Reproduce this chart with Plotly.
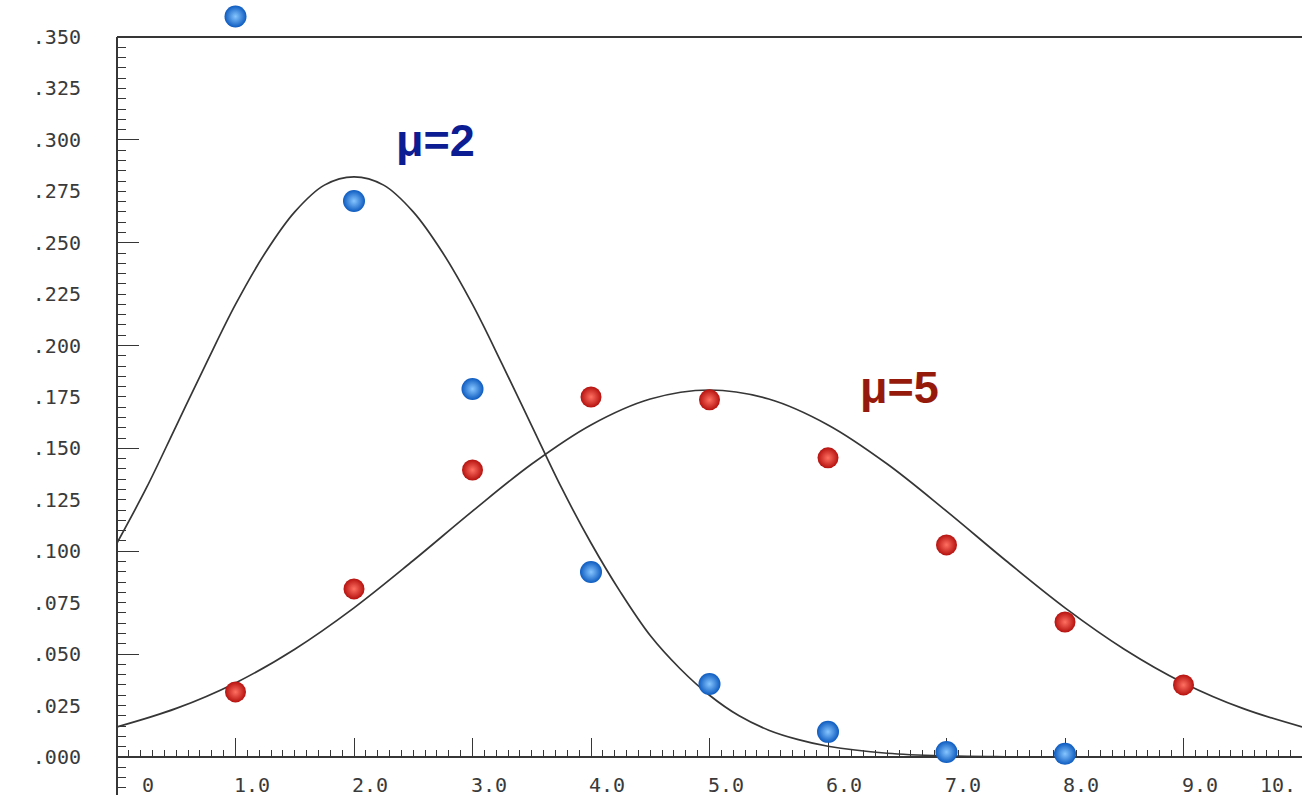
import plotly.graph_objects as go

# Poisson probabilities (points) for two means
k_blue = [1, 2, 3, 4, 5, 6, 7, 8]
p_blue = [0.360, 0.2703, 0.1789, 0.0899, 0.0355, 0.0122, 0.0024, 0.0015]

k_red = [1, 2, 3, 4, 5, 6, 7, 8, 9]
p_red = [0.0316, 0.0817, 0.1395, 0.1750, 0.1736, 0.1454, 0.1031, 0.0656, 0.0350]

# Smooth approximating curve for mu=2, sampled every 0.25
curve2_x = [0, 0.25, 0.5, 0.75, 1, 1.25, 1.5, 1.75, 2, 2.25, 2.5, 2.75, 3,
            3.25, 3.5, 3.75, 4, 4.25, 4.5, 4.75, 5, 5.25, 5.5, 5.75, 6,
            6.5, 7, 7.5, 8]
curve2_y = [0.104, 0.131, 0.161, 0.191, 0.220, 0.245, 0.265, 0.278, 0.282,
            0.278, 0.265, 0.245, 0.220, 0.191, 0.161, 0.131, 0.104, 0.080,
            0.059, 0.043, 0.030, 0.020, 0.013, 0.0084, 0.0052, 0.0018,
            0.0005, 0.0001, 0.0]

# Smooth approximating curve for mu=5, sampled every 0.5
curve5_x = [0, 0.5, 1, 1.5, 2, 2.5, 3, 3.5, 4, 4.5, 5, 5.5, 6, 6.5, 7, 7.5,
            8, 8.5, 9, 9.5, 10]
curve5_y = [0.0146, 0.0236, 0.036, 0.0524, 0.0725, 0.0955, 0.1195, 0.1424,
            0.1614, 0.174, 0.1784, 0.174, 0.1614, 0.1424, 0.1195, 0.0955,
            0.0725, 0.0524, 0.036, 0.0236, 0.0146]

# Axis tick labels
x_tick_vals = [0, 1, 2, 3, 4, 5, 6, 7, 8, 9, 10]
x_tick_text = ["0", "1.0", "2.0", "3.0", "4.0", "5.0", "6.0", "7.0", "8.0",
               "9.0", "10."]
y_tick_vals = [0.0, 0.025, 0.05, 0.075, 0.1, 0.125, 0.15, 0.175, 0.2, 0.225,
               0.25, 0.275, 0.3, 0.325, 0.35]
y_tick_text = [".000", ".025", ".050", ".075", ".100", ".125", ".150", ".175",
               ".200", ".225", ".250", ".275", ".300", ".325", ".350"]
y_long_ticks = [0.0, 0.05, 0.1, 0.15, 0.2, 0.25, 0.3]

Y_MIN, Y_TOP, Y_MAX = -0.0185, 0.35, 0.368
X_MIN, X_MAX = 0, 10

# small ticks every 0.005 from below zero up to the frame top
y_minor_ticks = [round(-0.015 + 0.005 * i, 3) for i in range(73)]

INK = "#363636"
TICK_FONT = dict(family="DejaVu Sans Mono", size=20, color="#3a3a3a")

fig = go.Figure()

fig.add_trace(go.Scatter(x=curve2_x, y=curve2_y, mode="lines",
                         line=dict(color=INK, width=1.7, shape="spline"),
                         hoverinfo="skip"))
fig.add_trace(go.Scatter(x=curve5_x, y=curve5_y, mode="lines",
                         line=dict(color=INK, width=1.7, shape="spline"),
                         hoverinfo="skip"))

fig.add_trace(go.Scatter(
    x=k_blue, y=p_blue, mode="markers", cliponaxis=False,
    marker=dict(size=22, color="#0d5bc0", line=dict(width=0),
                gradient=dict(type="radial", color="#86c6ff"))))
fig.add_trace(go.Scatter(
    x=k_red, y=p_red, mode="markers", cliponaxis=False,
    marker=dict(size=21, color="#b5110e", line=dict(width=0),
                gradient=dict(type="radial", color="#ff7062"))))

# frame: left axis line (stops at the top line) and top line
fig.add_shape(type="line", xref="paper", yref="y", x0=0, x1=0,
              y0=Y_MIN, y1=Y_TOP, line=dict(color=INK, width=2))
fig.add_shape(type="line", xref="paper", yref="y", x0=0, x1=1,
              y0=Y_TOP, y1=Y_TOP, line=dict(color=INK, width=2))

# x tick labels sit just right of their ticks
for v, t in zip(x_tick_vals, x_tick_text):
    if v == X_MAX:
        anchor, shift = "right", -4
    elif v == 0:
        anchor, shift = "left", 23
    else:
        anchor, shift = "left", -4
    fig.add_annotation(x=v, y=-0.0136, xref="x", yref="y", text=t,
                       showarrow=False, xanchor=anchor, yanchor="middle",
                       xshift=shift, font=TICK_FONT)

fig.add_annotation(x=2.69, y=0.2995, xref="x", yref="y", text="μ=2",
                   showarrow=False, xanchor="center", yanchor="middle",
                   font=dict(family="Liberation Sans", size=45,
                             color="#0c1c92", weight="bold"))
fig.add_annotation(x=6.60, y=0.1795, xref="x", yref="y", text="μ=5",
                   showarrow=False, xanchor="center", yanchor="middle",
                   font=dict(family="Liberation Sans", size=45,
                             color="#961a0c", weight="bold"))

fig.update_layout(
    width=1302, height=798,
    margin=dict(l=117, r=0, t=0, b=3),
    paper_bgcolor="white", plot_bgcolor="white",
    showlegend=False,
    xaxis=dict(
        range=[X_MIN, X_MAX], anchor="free",
        position=(0 - Y_MIN) / (Y_MAX - Y_MIN),
        showgrid=False, zeroline=False, showline=True,
        linecolor=INK, linewidth=2, layer="below traces",
        tickmode="array", tickvals=x_tick_vals, showticklabels=False,
        ticks="inside", ticklen=18, tickwidth=1.3, tickcolor=INK,
        minor=dict(tickmode="linear", tick0=0, dtick=0.1, ticks="inside",
                   ticklen=6, tickwidth=1.1, tickcolor=INK),
    ),
    yaxis=dict(
        range=[Y_MIN, Y_MAX], anchor="x",
        showgrid=False, zeroline=False, showline=False,
        tickmode="array", tickvals=y_tick_vals, ticktext=y_tick_text,
        ticks="inside", ticklen=9, tickwidth=1.3, tickcolor=INK,
        tickfont=TICK_FONT, ticklabelstandoff=35,
        minor=dict(tickmode="array", tickvals=y_minor_ticks, ticks="inside",
                   ticklen=9, tickwidth=1.1, tickcolor=INK),
    ),
    yaxis2=dict(
        range=[Y_MIN, Y_MAX], overlaying="y", anchor="x", side="left",
        showgrid=False, zeroline=False, showline=False,
        tickmode="array", tickvals=y_long_ticks, showticklabels=False,
        ticks="inside", ticklen=22, tickwidth=1.3, tickcolor=INK,
    ),
)

# invisible trace so the long-tick axis is rendered
fig.add_trace(go.Scatter(x=[X_MIN], y=[Y_MIN], yaxis="y2", mode="markers",
                         marker=dict(opacity=0), hoverinfo="skip"))

fig.write_html("out.html")
